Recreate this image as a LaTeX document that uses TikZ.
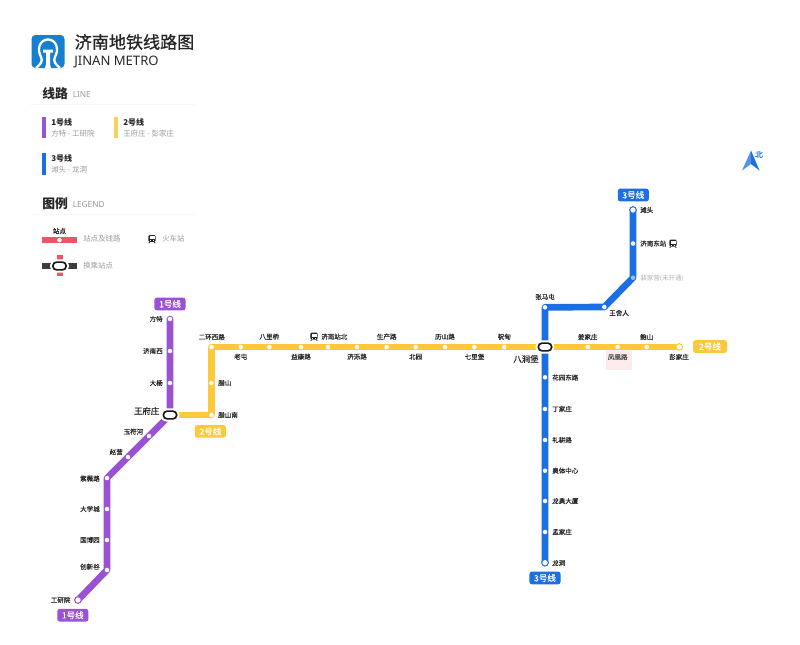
\documentclass[tikz,border=0pt]{standalone}
\usepackage{fontspec}
\setmainfont{Noto Sans CJK SC}
\newfontfamily\latinfont{Noto Sans}
\newfontfamily\semifont[FakeBold=0.35]{Noto Sans CJK SC}
\newfontfamily\midfont[FakeBold=0.8]{Noto Sans CJK SC}
\usetikzlibrary{backgrounds}
\definecolor{lineone}{HTML}{9B51D3}
\definecolor{linetwo}{HTML}{FCC93A}
\definecolor{linethree}{HTML}{1B6FE3}
\definecolor{legendred}{HTML}{EE5566}
\definecolor{logoblue}{HTML}{1580D0}
\definecolor{inkdark}{HTML}{262626}
\definecolor{inkgray}{HTML}{9A9A9A}
\definecolor{pinkbox}{HTML}{FDEBEC}
\newcommand{\fs}[1]{\fontsize{#1}{#1}\selectfont}
\tikzset{
  x=0.75pt,y=-0.75pt,
  stop/.style={circle,fill=white,draw=none,inner sep=0pt,minimum size=3.4pt},
  endstop/.style={circle,fill=white,draw=#1,line width=0.75pt,inner sep=0pt,minimum size=5pt},
  hub/.style={draw=black!90,line width=1.25pt,fill=white,rounded corners=2.8pt,inner sep=0pt,minimum width=10pt,minimum height=5.8pt},
  halo/.style={draw=white,line width=4.2pt,fill=white,rounded corners=2.8pt,inner sep=0pt,minimum width=10pt,minimum height=5.8pt},
  track/.style={draw=#1,line width=5pt,line join=round,line cap=round},
  badge/.style={fill=#1,rounded corners=1.8pt,text=white,font=\semifont\fs{6.4},inner sep=0pt,minimum height=9.5pt,minimum width=23.3pt},
  lb/.style={text=inkdark,font=\semifont\fs{4.9},inner sep=0pt},
  bigname/.style={text=inkdark,font=\semifont\fs{6.3},inner sep=0pt},
  gray label/.style={text=inkgray,font=\fs{5.6},inner sep=0pt,anchor=west},
  legend head/.style={text=inkdark,font=\fs{9.6}\bfseries,inner sep=0pt,anchor=west},
  legend en/.style={text=inkgray,font=\latinfont\fs{6.2},inner sep=0pt,anchor=west},
  line name/.style={text=inkdark,font=\fs{6}\bfseries,inner sep=0pt,anchor=west},
  rule line/.style={draw=black!3,line width=0.4pt},
  trainicon/.pic={
    \fill[inkdark,rounded corners=1pt] (-3.6,-4) rectangle (3.6,3);
    \fill[white] (-2.5,-2.8) rectangle (2.5,0.4);
    \fill[white] (-2,1.2) rectangle (-1,2.1);
    \fill[white] (1,1.2) rectangle (2,2.1);
    \draw[inkdark,line width=0.6pt] (-2.4,3) -- (-3.2,4.3) (2.4,3) -- (3.2,4.3);
  }
}
\begin{document}
\begin{tikzpicture}
\useasboundingbox (0,0) rectangle (800,644);
% logo
\fill[logoblue,rounded corners=3pt] (31.5,35) rectangle (64.5,68);
\draw[white,line width=1.75pt] (36,68) .. controls (41,64) and (43,61) .. (41,57) .. controls (36,47.5) and (41,39.5) .. (48,39.5) .. controls (55,39.5) and (60,47.5) .. (55,57) .. controls (53,61) and (55,64) .. (60,68);
\fill[white] (43,49.5) -- (53,49.5) -- (53,52.5) -- (50,52.5) -- (50,64) -- (51,68) -- (45,68) -- (46,64) -- (46,52.5) -- (43,52.5) -- cycle;
\node[inner sep=0pt,anchor=west,text=inkdark,font=\midfont\fs{12.8}] (title) at (74.5,42) {济南地铁线路图};
\node[inner sep=0pt,anchor=west,text=inkdark,font=\latinfont\fs{9.8}] (subtitle) at (74,62) {JINAN METRO};
% line legend
\node[legend head] (linehead) at (42,94) {线路};
\node[legend en] (lineen) at (72.5,95) {LINE};
\draw[rule line] (30,104) -- (195,104);
\fill[lineone] (42,117) rectangle (45.5,138);
\node[line name] (n1) at (51,122.5) {1号线};
\node[gray label] (s1) at (51,133.5) {方特 - 工研院};
\fill[linetwo!85!white] (114,117) rectangle (117.5,138);
\node[line name] (n2) at (123,122.5) {2号线};
\node[gray label] (s2) at (123,133.5) {王府庄 - 彭家庄};
\fill[linethree] (42,153) rectangle (45.5,174.5);
\node[line name] (n3) at (51,158.5) {3号线};
\node[gray label] (s3) at (51,169.5) {滩头 - 龙洞};
% symbol legend
\node[legend head] (symhead) at (42,204) {图例};
\node[legend en] (symen) at (72.5,205) {LEGEND};
\draw[rule line] (30,214) -- (195,214);
\node[lb,font=\midfont\fs{4.9}] (lgstop) at (59.5,231) {站点};
\fill[legendred] (42,237) rectangle (77,243);
\node[stop,minimum size=3.4pt] (lgdot) at (59.5,240) {};
\node[gray label] (lgstoptxt) at (83,239) {站点及线路};
\pic at (152,239) {trainicon};
\node[gray label] (lgtrain) at (162,239) {火车站};
\fill[legendred] (56.5,255) rectangle (63,276);
\fill[inkdark!90!white] (42,262.5) rectangle (77,269);
\node[halo] (lghalo) at (59.5,266) {};
\node[hub] (lghub) at (59.5,266) {};
\node[gray label] (lgswap) at (83,266) {换乘站点};
% north arrow
\fill[linethree!75!white] (751,150.5) -- (742,170.5) -- (751,164) -- cycle;
\fill[linethree] (751,150.5) -- (759.5,170.5) -- (751,164) -- cycle;
\node[inner sep=0pt,text=linethree,font=\midfont\fs{5.8}] (north) at (759,154.5) {北};
% highlight behind the Fenghuang Road label
\fill[pinkbox] (606,350) rectangle (631.7,369.5);
% line 1 stations
\node[stop] (fangte) at (170,319) {};
\node[stop] (jinanxi) at (170,351) {};
\node[stop] (dayang) at (170,383) {};
\node[halo] (wfzhalo) at (170,415) {};
\node[hub] (wangfu) at (170,415) {};
\node[stop] (yufuhe) at (149,436) {};
\node[stop] (zhaoying) at (128,457) {};
\node[stop] (ziwei) at (107,478) {};
\node[stop] (daxue) at (107,509) {};
\node[stop] (guobo) at (107,540) {};
\node[stop] (chuangxin) at (107,570) {};
\node[endstop=lineone] (gongyan) at (78,600) {};
% line 2 stations
\node[stop] (erhuan) at (211.5,347) {};
\node[stop] (lashan) at (211.5,383) {};
\node[stop] (lashannan) at (211.5,415) {};
\node[stop] (laotun) at (240.7,347) {};
\node[stop] (bali) at (269.3,347) {};
\node[stop] (yikang) at (301,347) {};
\node[stop] (jinanbei) at (328,347) {};
\node[stop] (jiluo) at (357,347) {};
\node[stop] (shengchan) at (386.7,347) {};
\node[stop] (beiyuan) at (415.7,347) {};
\node[stop] (lishan) at (445,347) {};
\node[stop] (qili) at (474.3,347) {};
\node[stop] (zhudian) at (504.2,347) {};
\node[halo] (bjbhalo) at (545,347) {};
\node[hub] (bajian) at (545,347) {};
\node[stop] (jiangjia) at (587.7,347) {};
\node[stop] (fenghuang) at (617.7,347) {};
\node[stop] (baoshan) at (646.7,347) {};
\node[endstop=linetwo] (pengjia) at (679.3,347) {};
% line 3 stations
\node[endstop=linethree] (tantou) at (633,210) {};
\node[stop] (jinandong) at (633,243.5) {};
\node[stop,fill=linethree!45!white] (peijia) at (633,277.7) {};
\node[stop] (wangshe) at (604.3,307) {};
\node[stop] (zhangma) at (545,307.3) {};
\node[stop] (huayuan) at (545,377.3) {};
\node[stop] (dingjia) at (545,409) {};
\node[stop] (ligeng) at (545,440) {};
\node[stop] (aoti) at (545,470.7) {};
\node[stop] (longao) at (545,501) {};
\node[stop] (mengjia) at (545,532) {};
\node[endstop=linethree] (longdong) at (545,562.7) {};
% connectors
\begin{scope}[on background layer]
\draw[track=lineone] (fangte.center) -- (jinanxi.center) -- (dayang.center) -- (wangfu.center) -- (yufuhe.center) -- (zhaoying.center) -- (ziwei.center) -- (daxue.center) -- (guobo.center) -- (chuangxin.center) -- (gongyan.center);
\draw[track=linetwo] (wangfu.center) -- (lashannan.center) -- (lashan.center) -- (erhuan.center) -- (laotun.center) -- (bali.center) -- (yikang.center) -- (jinanbei.center) -- (jiluo.center) -- (shengchan.center) -- (beiyuan.center) -- (lishan.center) -- (qili.center) -- (zhudian.center) -- (bajian.center) -- (jiangjia.center) -- (fenghuang.center) -- (baoshan.center) -- (pengjia.center);
\draw[track=linethree] (tantou.center) -- (jinandong.center) -- (peijia.center) -- (wangshe.center) -- (zhangma.center) -- (bajian.center) -- (huayuan.center) -- (dingjia.center) -- (ligeng.center) -- (aoti.center) -- (longao.center) -- (mengjia.center) -- (longdong.center);
\end{scope}
% line badges
\node[badge=lineone] (b1a) at (170,304) {1号线};
\node[badge=lineone] (b1b) at (72.8,615.2) {1号线};
\node[badge=linetwo] (b2a) at (210.4,431.4) {2号线};
\node[badge=linetwo,minimum width=25.5pt] (b2b) at (710,346.5) {2号线};
\node[badge=linethree] (b3a) at (633.3,195) {3号线};
\node[badge=linethree] (b3b) at (545,578) {3号线};
% line 1 labels
\node[lb,anchor=east] (tfangte) at (163,319) {方特};
\node[lb,anchor=east] (tjinanxi) at (163,351) {济南西};
\node[lb,anchor=east] (tdayang) at (163,383) {大杨};
\node[bigname,anchor=east] (twangfu) at (159.5,411) {王府庄};
\node[lb,anchor=east] (tyufu) at (143.5,431.7) {玉符河};
\node[lb,anchor=east] (tzhao) at (123,452) {赵营};
\node[lb,anchor=east] (tziwei) at (100,478.5) {紫薇路};
\node[lb,anchor=east] (tdaxue) at (100,509) {大学城};
\node[lb,anchor=east] (tguobo) at (100,540) {国博园};
\node[lb,anchor=east] (tchuang) at (100,566.7) {创新谷};
\node[lb,anchor=east] (tgong) at (70.7,600) {工研院};
% line 2 labels
\node[lb] (terhuan) at (211.7,337) {二环西路};
\node[lb,anchor=west] (tlashan) at (218,383) {腊山};
\node[lb,anchor=west] (tlashannan) at (218,415) {腊山南};
\node[lb] (tlaotun) at (240.7,356.7) {老屯};
\node[lb] (tbali) at (269.3,336.7) {八里桥};
\node[lb] (tyikang) at (301,356.7) {益康路};
\pic at (314,336.5) {trainicon};
\node[lb,anchor=west] (tjinanbei) at (321,336.7) {济南站北};
\node[lb] (tjiluo) at (357,356.7) {济泺路};
\node[lb] (tsheng) at (386.7,336.7) {生产路};
\node[lb] (tbei) at (415.7,356.7) {北园};
\node[lb] (tli) at (445,336.7) {历山路};
\node[lb] (tqili) at (474.5,356.7) {七里堡};
\node[lb] (tzhu) at (504.3,336.7) {祝甸};
\node[bigname] (tba) at (526,359) {八涧堡};
\node[lb] (tjiang) at (587.7,337) {姜家庄};
\node[lb,text=inkdark!80] (tfeng) at (617.7,357) {凤凰路};
\node[lb] (tbao) at (646.7,337) {鲍山};
\node[lb] (tpeng) at (679,357) {彭家庄};
% line 3 labels
\node[lb,anchor=west] (ttan) at (640,210) {滩头};
\node[lb,anchor=west] (tdong) at (640,243.5) {济南东站};
\pic at (673,243.5) {trainicon};
\node[lb,anchor=west,text=black!30,font=\fs{4.9}] (tpei) at (640,278) {裴家营(未开通)};
\node[lb] (tzhang) at (545,297) {张马屯};
\node[lb,anchor=west] (twang) at (609,313) {王舍人};
\node[lb,anchor=west] (thua) at (552,377.5) {花园东路};
\node[lb,anchor=west] (tding) at (552,409) {丁家庄};
\node[lb,anchor=west] (tlig) at (552,440) {礼耕路};
\node[lb,anchor=west] (taoti) at (552,470.7) {奥体中心};
\node[lb,anchor=west] (tlonga) at (552,501) {龙奥大厦};
\node[lb,anchor=west] (tmeng) at (552,532) {孟家庄};
\node[lb,anchor=west] (tlongd) at (552,563) {龙洞};
\end{tikzpicture}
\end{document}
